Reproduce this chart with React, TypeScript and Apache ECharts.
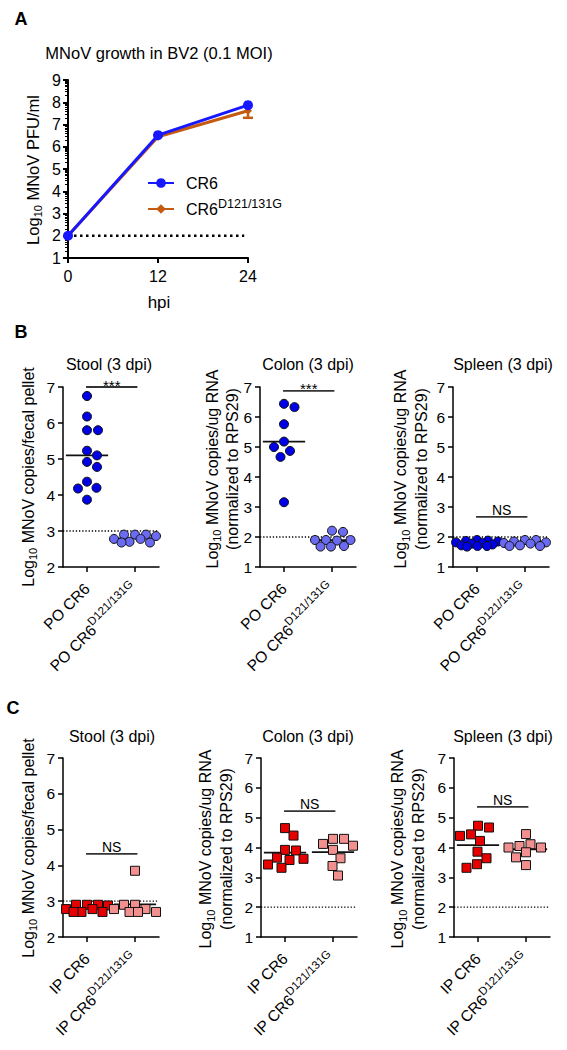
import React, { useEffect, useRef } from "react";
import * as echarts from "echarts";

const FONT = "'Liberation Sans', Arial, Helvetica, sans-serif";
const NARROW = "'Liberation Sans Narrow', 'Arial Narrow', 'Liberation Sans', Arial, sans-serif";

// ---------- Panel A: MNoV growth in BV2 ----------
const hpiValues = [0, 12, 24];
const growthCR6 = [2.0, 6.52, 7.87];
const growthMutant = [2.0, 6.45, 7.62];
const growthMutantLow = [2.0, 6.42, 7.3];
const limitA = 2;

// ---------- Panel B: PO infection (log10 values) ----------
const bStoolCR6 = [6.75, 6.18, 5.8, 5.8, 5.23, 5.1, 4.92, 4.78, 4.37, 4.2, 4.18, 3.87];
const bStoolMut = [2.9, 2.9, 2.9, 2.86, 2.78, 2.78, 2.7, 2.68, 2.68];
const bColonCR6 = [6.44, 6.33, 5.76, 5.18, 5.0, 4.87, 4.67, 3.16];
const bColonMut = [2.21, 2.17, 1.9, 1.9, 1.9, 1.88, 1.7, 1.68, 1.68];
const bSpleenCR6 = [1.9, 1.88, 1.87, 1.85, 1.82, 1.8, 1.78, 1.75, 1.72, 1.7, 1.7, 1.68];
const bSpleenMut = [1.9, 1.9, 1.85, 1.82, 1.8, 1.78, 1.72, 1.7, 1.7];

// ---------- Panel C: IP infection (log10 values) ----------
const cStoolCR6 = [2.9, 2.9, 2.9, 2.88, 2.78, 2.78, 2.7, 2.7, 2.7];
const cStoolMut = [3.85, 2.9, 2.9, 2.78, 2.78, 2.7, 2.7, 2.7];
const cColonCR6 = [4.65, 4.4, 3.92, 3.9, 3.66, 3.62, 3.58, 3.43, 3.32];
const cColonMut = [4.29, 4.29, 4.12, 4.06, 3.92, 3.64, 3.38, 3.06];
const cSpleenCR6 = [4.73, 4.67, 4.44, 4.39, 4.22, 3.86, 3.64, 3.44, 3.32];
const cSpleenMut = [4.45, 4.11, 4.05, 4.0, 4.0, 3.84, 3.67, 3.41];

const panelTitles = ["Stool (3 dpi)", "Colon (3 dpi)", "Spleen (3 dpi)", "Stool (3 dpi)", "Colon (3 dpi)", "Spleen (3 dpi)"];
const detectionLimits = [3, 2, 2, 3, 2, 2];
const sigLevels = [7.0, 6.87, 2.67, 4.32, 5.22, 5.36];
const sigTexts = ["***", "***", "NS", "NS", "NS", "NS"];
const yMins = [2, 1, 1, 2, 1, 1];
const yMax = 7;
const routesB = ["PO CR6", "PO CR6"];
const routesC = ["IP CR6", "IP CR6"];
const mutantSup = "D121/131G";

const BLUE_A = "#1818ff";
const ORANGE_A = "#c55a11";
const COLORS_B = ["#0000e6", "#6b6bf2"];
const COLORS_C = ["#e60000", "#f29090"];

type Panel = {
  left: number; top: number; height: number;
  groups: number[][]; colors: string[]; symbol: string; labels: string[];
  titleX: number; titleY: number;
  nameX: number; nameY: number; twoLine: boolean; nameLH: number;
};

const panels: Panel[] = [
  { left: 63, top: 387, height: 180, groups: [bStoolCR6, bStoolMut], colors: COLORS_B, symbol: "circle", labels: routesB, titleX: 109, titleY: 364, nameX: 28, nameY: 477, twoLine: false, nameLH: 20 },
  { left: 260, top: 387, height: 180, groups: [bColonCR6, bColonMut], colors: COLORS_B, symbol: "circle", labels: routesB, titleX: 308, titleY: 364, nameX: 222, nameY: 469, twoLine: true, nameLH: 20 },
  { left: 453, top: 387, height: 180, groups: [bSpleenCR6, bSpleenMut], colors: COLORS_B, symbol: "circle", labels: routesB, titleX: 503, titleY: 364, nameX: 411, nameY: 469, twoLine: true, nameLH: 21 },
  { left: 63, top: 758, height: 179, groups: [cStoolCR6, cStoolMut], colors: COLORS_C, symbol: "rect", labels: routesC, titleX: 112, titleY: 736, nameX: 28, nameY: 848, twoLine: false, nameLH: 20 },
  { left: 261, top: 758, height: 179, groups: [cColonCR6, cColonMut], colors: COLORS_C, symbol: "rect", labels: routesC, titleX: 308, titleY: 736, nameX: 216, nameY: 849, twoLine: true, nameLH: 21 },
  { left: 454, top: 758, height: 179, groups: [cSpleenCR6, cSpleenMut], colors: COLORS_C, symbol: "rect", labels: routesC, titleX: 503, titleY: 736, nameX: 408, nameY: 849, twoLine: true, nameLH: 21 },
];

const PANEL_W = 96;
const X_MIN = 0.5;
const X_MAX = 2.5;

// Deterministic, bounded beeswarm spread of one group's points (pixel based).
function swarm(values: number[], center: number, pxX: number, pxY: number, minDist: number, maxHalf: number): number[][] {
  const sorted = [...values].sort((a, b) => b - a);
  const placed: [number, number][] = [];
  const out: number[][] = [];
  sorted.forEach((v, idx) => {
    const py = -v * pxY;
    const firstNeg = idx % 2 === 0;
    let best = 0;
    let bestScore = -Infinity;
    for (let k = 0; ; k++) {
      const step = Math.ceil(k / 2) * 0.5;
      if (step > maxHalf) break;
      const cand = k === 0 ? 0 : (k % 2 === 1) === firstNeg ? -step : step;
      const d = placed.length ? Math.min(...placed.map(([x, y]) => Math.hypot(x - cand, y - py))) : Infinity;
      if (d >= minDist) {
        best = cand;
        break;
      }
      if (d > bestScore + 1e-9) {
        bestScore = d;
        best = cand;
      }
    }
    placed.push([best, py]);
    out.push([center + best / pxX, v]);
  });
  return out;
}

const mean = (a: number[]) => a.reduce((s, v) => s + v, 0) / a.length;

function buildOption(): any {
  const grids: any[] = [{ left: 68, top: 80, width: 180, height: 178, outerBoundsMode: "none" }];
  const xAxes: any[] = [];
  const yAxes: any[] = [];
  const series: any[] = [];
  const graphics: any[] = [];

  const axisLineStyle = (w: number) => ({ show: true, onZero: false, lineStyle: { color: "#000", width: w } });
  const axisTickStyle = (w: number, len: number) => ({ show: true, length: len, lineStyle: { color: "#000", width: w } });

  // ----- Panel A axes
  xAxes.push({
    gridIndex: 0, type: "value", min: 0, max: 24, interval: 12,
    axisLine: axisLineStyle(2), axisTick: axisTickStyle(2, 5), splitLine: { show: false },
    axisLabel: { fontSize: 16, fontFamily: FONT, color: "#000", margin: 10 },
  });
  yAxes.push({
    gridIndex: 0, type: "value", min: 1, max: 9, interval: 1,
    axisLine: axisLineStyle(2), axisTick: axisTickStyle(2, 5), splitLine: { show: false },
    axisLabel: { fontSize: 16, fontFamily: FONT, color: "#000", margin: 7 },
  });
  const minorA: number[] = [];
  for (let k = 1; k < 9; k++) for (let m = 2; m <= 9; m++) minorA.push(k + Math.log10(m));
  yAxes.push({
    gridIndex: 0, type: "value", min: 1, max: 9, position: "left",
    axisLine: { show: false }, axisLabel: { show: false }, splitLine: { show: false },
    axisTick: { show: true, length: 3, lineStyle: { color: "#000", width: 1 }, customValues: minorA },
  });

  series.push({
    type: "line", xAxisIndex: 0, yAxisIndex: 0, silent: true, symbol: "none", z: 1,
    data: [[0, limitA], [23.5, limitA]],
    lineStyle: { color: "#000", width: 2.5, type: [2.5, 3.5] },
  });
  series.push({
    type: "line", name: "CR6-mut", xAxisIndex: 0, yAxisIndex: 0, z: 2,
    data: hpiValues.map((h, i) => [h, growthMutant[i]]),
    symbol: "diamond", symbolSize: 8,
    lineStyle: { color: ORANGE_A, width: 3 }, itemStyle: { color: ORANGE_A },
  });
  series.push({
    type: "custom", xAxisIndex: 0, yAxisIndex: 0, z: 2, silent: true,
    data: hpiValues.map((h, i) => [h, growthMutant[i], growthMutantLow[i]]).filter((d) => d[1] - d[2] > 0.05),
    renderItem: (_p: any, api: any) => {
      const top = api.coord([api.value(0), api.value(1)]);
      const low = api.coord([api.value(0), api.value(2)]);
      return {
        type: "group",
        children: [
          { type: "line", shape: { x1: top[0], y1: top[1], x2: low[0], y2: low[1] }, style: { stroke: ORANGE_A, lineWidth: 2.5 } },
          { type: "line", shape: { x1: low[0] - 5, y1: low[1], x2: low[0] + 5, y2: low[1] }, style: { stroke: ORANGE_A, lineWidth: 2.5 } },
        ],
      };
    },
  });
  series.push({
    type: "line", name: "CR6", xAxisIndex: 0, yAxisIndex: 0, z: 3,
    data: hpiValues.map((h, i) => [h, growthCR6[i]]),
    symbol: "circle", symbolSize: 10,
    lineStyle: { color: BLUE_A, width: 3 }, itemStyle: { color: BLUE_A },
  });

  // ----- Panels B & C
  panels.forEach((p, pi) => {
    const gi = pi + 1;
    const xi = pi + 1;
    const yi = pi + 2;
    const yMin = yMins[pi];
    grids.push({ left: p.left, top: p.top, width: PANEL_W, height: p.height, outerBoundsMode: "none" });
    const labels = p.labels;
    xAxes.push({
      gridIndex: gi, type: "value", min: X_MIN, max: X_MAX, splitLine: { show: false },
      axisLine: axisLineStyle(1.5),
      axisTick: { ...axisTickStyle(1.5, 5), customValues: [1, 2] },
      axisLabel: {
        customValues: [1, 2], rotate: 45, margin: 19, color: "#000",
        formatter: (v: number) => (Math.round(v) === 1 ? `{n|${labels[0]}}` : `{n|${labels[1]}}{sup|${mutantSup}}`),
        rich: {
          n: { fontSize: 15.5, fontFamily: FONT, color: "#000", lineHeight: 24 },
          sup: { fontSize: 11.5, fontFamily: FONT, color: "#000", verticalAlign: "top", lineHeight: 11 },
        },
      },
    });
    yAxes.push({
      gridIndex: gi, type: "value", min: yMin, max: yMax, interval: 1,
      axisLine: axisLineStyle(1.5), axisTick: axisTickStyle(1.5, 5), splitLine: { show: false },
      axisLabel: { fontSize: 15.5, fontFamily: FONT, color: "#000", margin: 8 },
    });

    const pxX = PANEL_W / (X_MAX - X_MIN);
    const pxY = p.height / (yMax - yMin);

    // detection limit
    series.push({
      type: "line", xAxisIndex: xi, yAxisIndex: yi, silent: true, symbol: "none", z: 1,
      data: [[X_MIN, detectionLimits[pi]], [X_MAX, detectionLimits[pi]]],
      lineStyle: { color: "#000", width: 1.3, type: [1.3, 1.9] },
    });
    // group means
    series.push({
      type: "custom", xAxisIndex: xi, yAxisIndex: yi, silent: true, z: 2,
      data: p.groups.map((g, k) => [k + 1, mean(g)]),
      renderItem: (_pp: any, api: any) => {
        const c = api.coord([api.value(0), api.value(1)]);
        const w = api.size([0.44, 0])[0];
        return { type: "line", shape: { x1: c[0] - w, y1: c[1], x2: c[0] + w, y2: c[1] }, style: { stroke: "#111", lineWidth: 1.8 } };
      },
    });
    // points
    p.groups.forEach((g, k) => {
      series.push({
        type: "scatter", xAxisIndex: xi, yAxisIndex: yi, z: 3, silent: true,
        symbol: p.symbol, symbolSize: 9,
        data: swarm(g, k + 1, pxX, pxY, 11, 21),
        itemStyle: { color: p.colors[k], borderColor: "#111", borderWidth: 1, opacity: 1 },
      });
    });
    // significance bar
    const sText = sigTexts[pi];
    series.push({
      type: "custom", xAxisIndex: xi, yAxisIndex: yi, silent: true, z: 4,
      data: [[0.98, 2.05, sigLevels[pi]]],
      renderItem: (_pp: any, api: any) => {
        const a = api.coord([api.value(0), api.value(2)]);
        const b = api.coord([api.value(1), api.value(2)]);
        const isStar = sText.indexOf("*") >= 0;
        return {
          type: "group",
          children: [
            { type: "line", shape: { x1: a[0], y1: a[1], x2: b[0], y2: b[1] }, style: { stroke: "#333", lineWidth: 1.8 } },
            {
              type: "text", x: (a[0] + b[0]) / 2, y: a[1] - (isStar ? 2 : 7),
              style: {
                text: sText, align: "center", verticalAlign: "middle", fill: "#000",
                font: `${isStar ? 15 : 14}px ${isStar ? FONT : NARROW}`,
              },
            },
          ],
        };
      },
    });

    // title
    graphics.push({
      type: "text", x: p.titleX, y: p.titleY, silent: true,
      style: { text: panelTitles[pi], font: `16px ${FONT}`, fill: "#000", align: "center", verticalAlign: "middle" },
    });
    // y-axis name
    const nameLine1 = pi % 3 === 0 ? " MNoV copies/fecal pellet" : " MNoV copies/ug RNA";
    const txt = `{b|Log}{s|10}{b|${nameLine1}}` + (p.twoLine ? `\n{b|(normalized to RPS29)}` : "");
    graphics.push({
      type: "text", x: p.nameX, y: p.nameY, rotation: Math.PI / 2, silent: true,
      style: {
        text: txt, align: "center", verticalAlign: "middle", fill: "#000",
        rich: {
          b: { fontSize: 16, fontFamily: FONT, fill: "#000", lineHeight: p.nameLH },
          s: { fontSize: 11, fontFamily: FONT, fill: "#000", verticalAlign: "bottom", lineHeight: 11 },
        },
      },
    });
  });

  // Panel A texts
  const letter = (t: string, x: number, y: number) => ({
    type: "text", x, y, silent: true,
    style: { text: t, font: `bold 18px ${FONT}`, fill: "#000", align: "center", verticalAlign: "middle" },
  });
  graphics.push(letter("A", 21, 19), letter("B", 21, 332), letter("C", 13, 708));
  graphics.push({
    type: "text", x: 159, y: 53, silent: true,
    style: { text: "MNoV growth in BV2 (0.1 MOI)", font: `16.5px ${FONT}`, fill: "#000", align: "center", verticalAlign: "middle" },
  });
  graphics.push({
    type: "text", x: 159, y: 302, silent: true,
    style: { text: "hpi", font: `17px ${FONT}`, fill: "#000", align: "center", verticalAlign: "middle" },
  });
  graphics.push({
    type: "text", x: 33, y: 170, rotation: Math.PI / 2, silent: true,
    style: {
      text: "{b|Log}{s|10}{b| MNoV PFU/ml}", align: "center", verticalAlign: "middle", fill: "#000",
      rich: {
        b: { fontSize: 16.5, fontFamily: FONT, fill: "#000", lineHeight: 20 },
        s: { fontSize: 11, fontFamily: FONT, fill: "#000", verticalAlign: "bottom", lineHeight: 11 },
      },
    },
  });

  return {
    animation: false,
    backgroundColor: "#fff",
    textStyle: { fontFamily: FONT },
    grid: grids,
    xAxis: xAxes,
    yAxis: yAxes,
    legend: {
      data: ["CR6", "CR6-mut"],
      orient: "vertical", left: 147, top: 175, padding: 0,
      itemWidth: 26, itemHeight: 12, itemGap: 6,
      formatter: (name: string) => (name === "CR6" ? "{n|CR6}" : `{n|CR6}{sup|${mutantSup}}`),
      textStyle: {
        color: "#000", fontSize: 16, fontFamily: FONT, padding: [0, 0, 0, 7],
        rich: {
          n: { fontSize: 16, fontFamily: FONT, color: "#000", lineHeight: 24 },
          sup: { fontSize: 12.5, fontFamily: FONT, color: "#000", verticalAlign: "top", lineHeight: 12 },
        },
      },
    },
    series,
    graphic: graphics,
  };
}

export default function App() {
  const ref = useRef<HTMLDivElement>(null);
  useEffect(() => {
    if (!ref.current) return;
    const chart = echarts.init(ref.current, null, { renderer: "svg" });
    chart.setOption(buildOption());
    return () => chart.dispose();
  }, []);
  return (
    <div
      ref={ref}
      style={{ position: "absolute", left: 0, top: 0, width: 567, height: 1050, background: "#fff" }}
    />
  );
}
